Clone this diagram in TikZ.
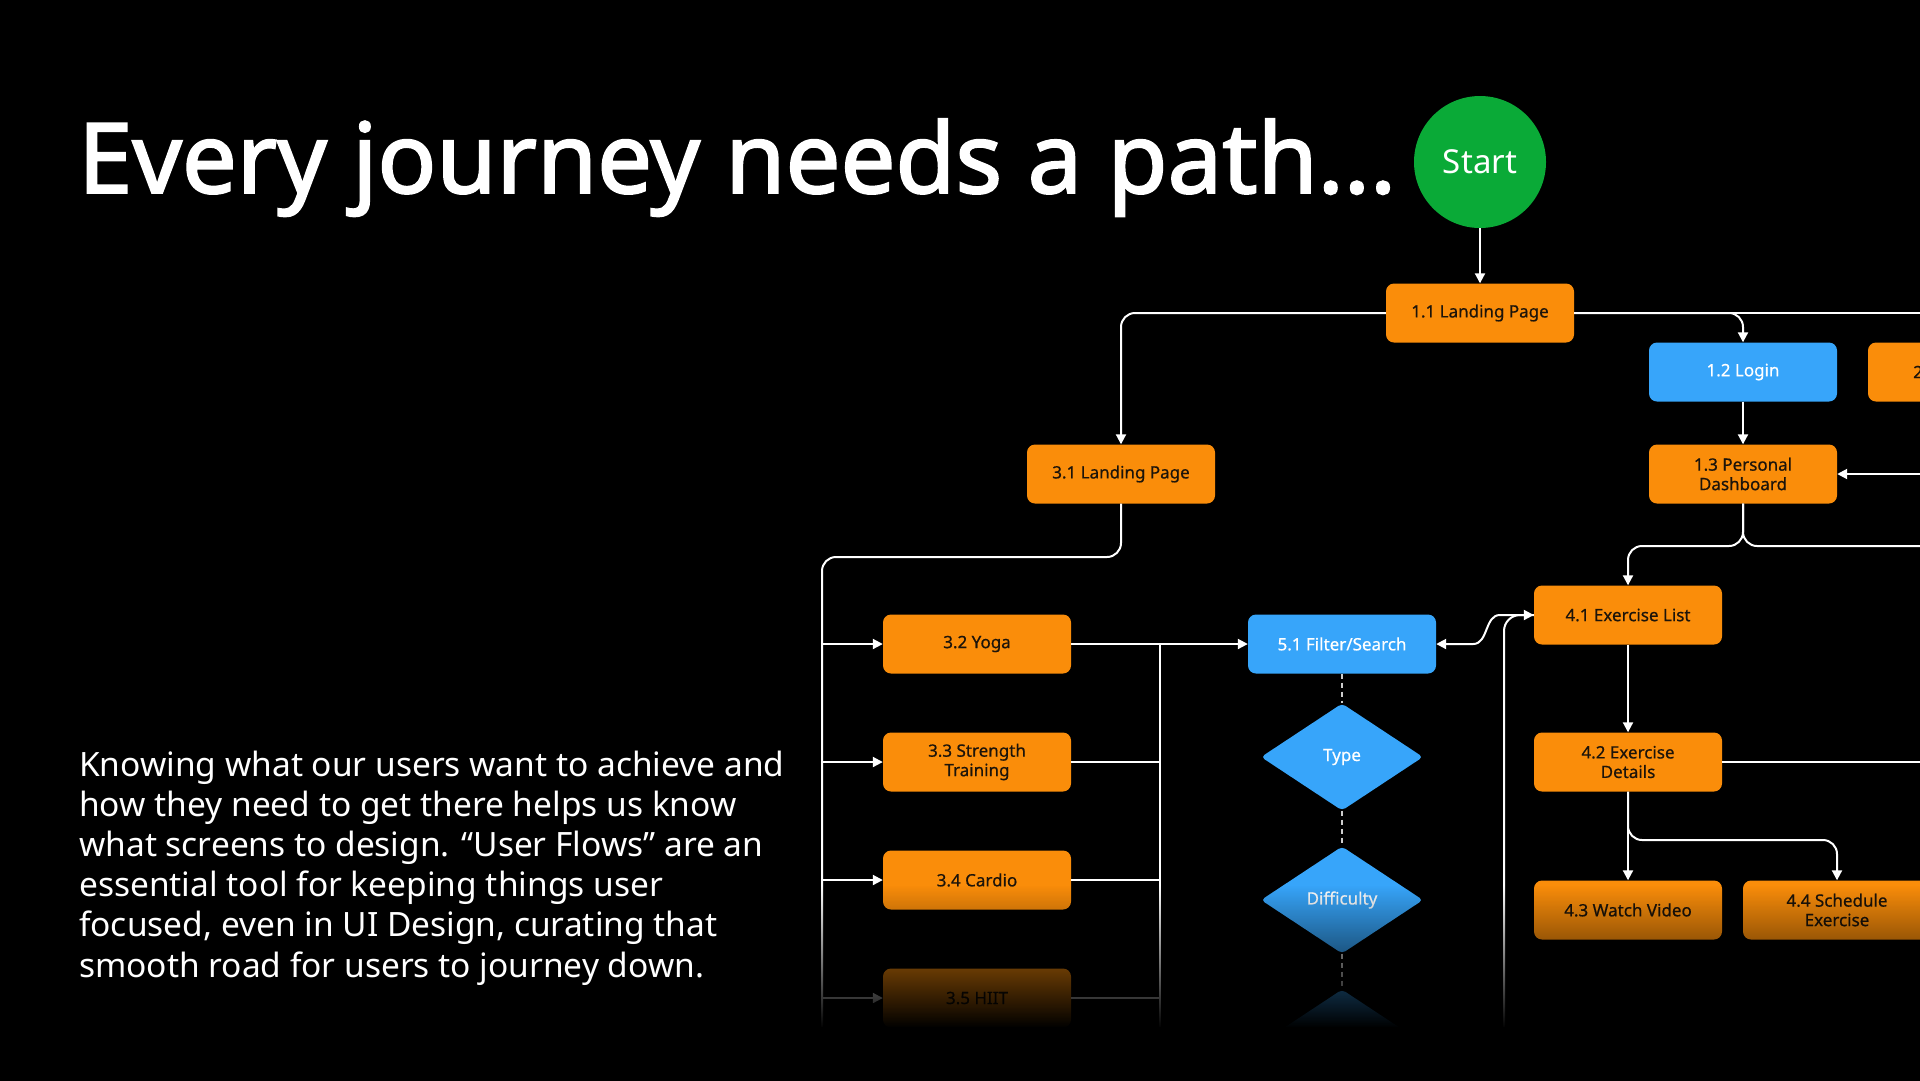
\documentclass[tikz,border=0pt]{standalone}
\usepackage{fontspec}
\setmainfont{Noto Sans}
\newfontfamily\titlefont{Noto Sans}[FakeBold=2]
\newfontfamily\boxfont{Noto Sans}[FakeBold=0.6]
\usetikzlibrary{arrows.meta,shapes.geometric,fadings,calc}
\definecolor{orng}{RGB}{250,141,10}
\definecolor{blu}{RGB}{55,165,250}
\definecolor{grn}{RGB}{10,170,55}
\definecolor{boxtext}{RGB}{28,20,10}
\definecolor{dashgray}{RGB}{205,205,205}
\tikzset{
  box/.style={rectangle, rounded corners=8pt, minimum width=188pt, minimum height=59pt,
    inner sep=0pt, align=center, font=\boxfont\fontsize{17}{19.5}\selectfont, text=boxtext},
  obox/.style={box, fill=orng},
  bbox/.style={box, fill=blu, text=white},
  dmd/.style={diamond, rounded corners=4pt, fill=blu, text=white, minimum width=162pt,
    minimum height=107pt, inner sep=0pt, font=\boxfont\fontsize{17}{19.5}\selectfont},
  conn/.style={draw=white, line width=2pt, rounded corners=14pt},
  arr/.style={conn, -{Triangle[length=10pt,width=10pt]}},
  dsh/.style={draw=dashgray, line width=2pt, dash pattern=on 5pt off 4pt},
  bodyline/.style={anchor=base west, inner sep=0pt, text=white, font=\fontsize{33.5}{40}\selectfont},
}
\begin{document}
\begin{tikzpicture}[x=1pt,y=-1pt]
\useasboundingbox (0,0) rectangle (1920,1080);
\fill[black] (-10,-10) rectangle (1930,1090);

% title
\node[anchor=base west, inner sep=0pt, text=white, font=\titlefont\fontsize{97.5}{100}\selectfont] (title) at (78,193) {Every journey needs a path...};

% body text
\node[bodyline] (b1) at (79,776) {Knowing what our users want to achieve and};
\node[bodyline] (b2) at (79,816.2) {how they need to get there helps us know};
\node[bodyline] (b3) at (79,856.4) {what screens to design. “User Flows” are an};
\node[bodyline] (b4) at (79,896.6) {essential tool for keeping things user};
\node[bodyline] (b5) at (79,936.8) {focused, even in UI Design, curating that};
\node[bodyline] (b6) at (79,977) {smooth road for users to journey down.};

\begin{scope}
\clip (0,0) rectangle (1920,1080);
% nodes
\node[circle, fill=grn, minimum size=132pt, inner sep=0pt, text=white, font=\fontsize{33}{36}\selectfont] (start) at (1480,162) {Start};
\node[obox] (l11) at (1480,313) {1.1 Landing Page};
\node[bbox] (l12) at (1743,372) {1.2 Login};
\node[obox] (l2x) at (1962,372) {};
\node[anchor=west, inner sep=0pt, text=boxtext, font=\boxfont\fontsize{17}{19.5}\selectfont] (n2) at (1913,372) {2};
\node[obox] (l13) at (1743,474) {1.3 Personal\\Dashboard};
\node[obox] (l31) at (1121,474) {3.1 Landing Page};
\node[obox] (l32) at (977,644) {3.2 Yoga};
\node[obox] (l33) at (977,762) {3.3 Strength\\Training};
\node[obox] (l34) at (977,880) {3.4 Cardio};
\node[obox] (l35) at (977,998) {3.5 HIIT};
\node[bbox] (l51) at (1342,644) {5.1 Filter/Search};
\node[dmd] (dtype) at (1342,757) {Type};
\node[dmd] (ddiff) at (1342,900) {Difficulty};
\node[dmd] (d3) at (1342,1043) {};
\node[obox] (l41) at (1628,615) {4.1 Exercise List};
\node[obox] (l42) at (1628,762) {4.2 Exercise\\Details};
\node[obox] (l43) at (1628,910) {4.3 Watch Video};
\node[obox] (l44) at (1837,910) {4.4 Schedule\\Exercise};

% free ends and junctions
\coordinate (eA) at (1930,313);
\coordinate (eB) at (1930,475);
\coordinate (eC) at (1930,546);
\coordinate (eD) at (1930,764);
\coordinate (j13) at (1743,546);
\coordinate (busTop) at (822,557);
\coordinate (busBot) at (822,1040);
\coordinate (rbTop) at (1160,644);
\coordinate (rbBot) at (1160,1040);
\coordinate (vBot) at (1504,1040);
\coordinate (j42) at (1628,840);

% connectors
\draw[arr] (start) -- (l11);
\draw[arr] (l11.west) -| (l31.north);
\draw[conn] (l11.east) -- (l11.east -| eA);
\draw[arr] (l11.east) -| (l12.north);
\draw[arr] (l12) -- (l13);
\draw[arr] (l13.east -| eB) -- (l13.east);
\draw[arr] (l13.south) -- (j13) -| (l41.north);
\draw[conn] (l13.south) -- (j13) -- (j13 -| eC);

\draw[conn] (l31.south) |- (busTop) -- (busBot);
\draw[arr] (busTop |- l32.west) -- (l32.west);
\draw[arr] (busTop |- l33.west) -- (l33.west);
\draw[arr] (busTop |- l34.west) -- (l34.west);
\draw[arr] (busTop |- l35.west) -- (l35.west);

\draw[arr] (l32.east) -- (l51.west);
\draw[conn] (l33.east) -- (l33.east -| rbTop);
\draw[conn] (l34.east) -- (l34.east -| rbTop);
\draw[conn] (l35.east) -- (l35.east -| rbTop);
\draw[conn] (rbTop) -- (rbBot);

\draw[dsh] (l51.south) -- (dtype.north);
\draw[dsh] (dtype.south) -- (ddiff.north);
\draw[dsh] (ddiff.south) -- (d3.north);

\draw[draw=white, line width=2pt, {Triangle[length=10pt,width=10pt]}-{Triangle[length=10pt,width=10pt]}]
  (l51.east) -- ++(37,0) .. controls +(15,0) and +(-15,0) .. ($(l41.west)+(-34,0)$) -- (l41.west);
\draw[conn, rounded corners=16pt] (vBot) |- (l41.west);

\draw[arr] (l41) -- (l42);
\draw[conn] (l42.east) -- (l42.east -| eD);
\draw[arr] (l42) -- (l43);
\draw[arr] (l42.south) -- (j42) -| (l44.north);

% bottom fade
\fill[black, path fading=north] (800,885) rectangle (1930,1028);
\fill[black] (800,1027) rectangle (1930,1090);
\end{scope}
\end{tikzpicture}
\end{document}
